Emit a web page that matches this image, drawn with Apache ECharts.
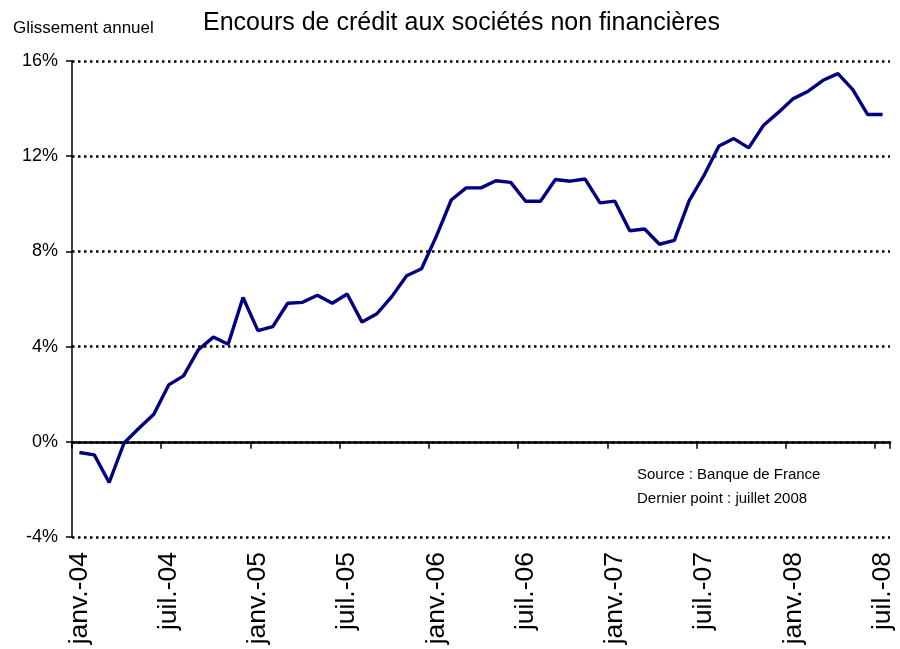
<!DOCTYPE html>
<html>
<head>
<meta charset="utf-8">
<script src="https://cdn.jsdelivr.net/npm/echarts@6/dist/echarts.min.js"></script>
<style>
  html, body { margin: 0; padding: 0; background: #fff; }
  #chart { width: 900px; height: 649px; }
</style>
</head>
<body>
<div id="chart"></div>
<script>
// mois de janv.-04 a juil.-08
const moisNoms = ['janv.', 'févr.', 'mars', 'avr.', 'mai', 'juin', 'juil.', 'août', 'sept.', 'oct.', 'nov.', 'déc.']
const annees = ['04', '05', '06', '07', '08']
const mois = []
annees.forEach(function (a) {
  moisNoms.forEach(function (m) { mois.push(m + '-' + a) })
})
const categories = mois.slice(0, 55)

// glissement annuel (%)
const encours = [
  -0.45, -0.55, -1.71, -0.05, 0.57, 1.16, 2.39, 2.77, 3.87, 4.40,
  4.10, 6.06, 4.67, 4.84, 5.82, 5.86, 6.16, 5.82, 6.21, 5.03,
  5.38, 6.10, 6.98, 7.27, 8.64, 10.16, 10.67, 10.67, 10.97, 10.90,
  10.11, 10.11, 11.02, 10.95, 11.04, 10.04, 10.11, 8.87, 8.94, 8.30,
  8.46, 10.13, 11.20, 12.43, 12.74, 12.35, 13.30, 13.84, 14.42, 14.73,
  15.19, 15.47, 14.80, 13.75, 13.75
]

const yTicks = { min: -4, max: 16, interval: 4 }
const notes = ['Source : Banque de France', 'Dernier point : juillet 2008']

const font = "'Liberation Sans', Arial, sans-serif"

const chart = echarts.init(document.getElementById('chart'))
const option = {
  animation: false,
  textStyle: { fontFamily: font },
  title: [
    {
      text: 'Encours de crédit aux sociétés non financières',
      left: 203,
      top: 11,
      padding: 0,
      textStyle: { fontFamily: font, fontSize: 25, fontWeight: 'normal', color: '#000' }
    },
    {
      text: 'Glissement annuel',
      left: 13,
      top: 20,
      padding: 0,
      textStyle: { fontFamily: font, fontSize: 17, fontWeight: 'normal', color: '#000' }
    }
  ],
  grid: { left: 72, right: 10, top: 61, bottom: 112, containLabel: false },
  xAxis: [
    {
      // libelles en bas
      type: 'category',
      data: categories,
      boundaryGap: true,
      position: 'bottom',
      axisLine: { show: false, onZero: false },
      axisTick: { show: false },
      axisLabel: {
        interval: 5,
        rotate: 90,
        margin: 15,
        fontFamily: font,
        fontSize: 26.5,
        color: '#000'
      },
      splitLine: { show: false }
    },
    {
      // axe a zero avec graduations
      type: 'category',
      data: categories,
      boundaryGap: true,
      position: 'bottom',
      z: 3,
      axisLine: { show: true, onZero: true, lineStyle: { color: '#000', width: 2.5 } },
      axisTick: { show: true, interval: 5, length: 7, lineStyle: { color: '#000', width: 1.5 } },
      axisLabel: { show: false },
      splitLine: { show: false }
    }
  ],
  yAxis: {
    type: 'value',
    min: yTicks.min,
    max: yTicks.max,
    interval: yTicks.interval,
    axisLine: { show: true, lineStyle: { color: '#000', width: 1.5 } },
    axisTick: { show: true, length: 6, lineStyle: { color: '#000', width: 1.5 } },
    axisLabel: {
      formatter: '{value}%',
      margin: 14,
      fontFamily: font,
      fontSize: 18,
      color: '#000'
    },
    splitLine: {
      show: true,
      lineStyle: { color: '#000', width: 2.5, type: [2.5, 3.5] }
    }
  },
  graphic: [
    {
      type: 'text',
      left: 637,
      top: 463,
      style: {
        text: notes.join('\n'),
        font: '15px ' + font,
        fill: '#000',
        lineHeight: 24
      }
    }
  ],
  series: [{
    type: 'line',
    xAxisIndex: 0,
    data: encours,
    symbol: 'none',
    lineStyle: { color: '#000080', width: 3.4 },
    z: 5
  }]
}
chart.setOption(option)
</script>
</body>
</html>
